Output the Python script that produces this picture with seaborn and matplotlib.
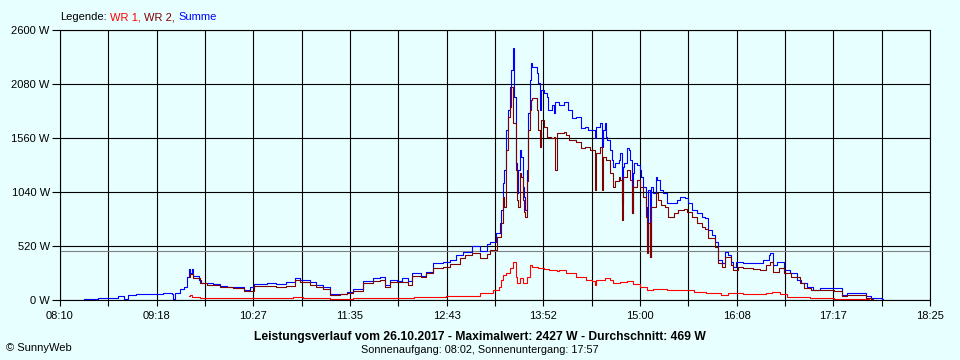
import numpy as np
import pandas as pd
import matplotlib
matplotlib.use('Agg')
import matplotlib.pyplot as plt
import seaborn as sns

# Summe (blue)
sum_times = ["08:27", "08:31", "08:37", "08:44", "08:51", "08:55", "08:58", "09:04", "09:18", "09:23",
             "09:29", "09:30", "09:31", "09:35", "09:38", "09:40", "09:41", "09:42", "09:43", "09:44",
             "09:48", "09:50", "09:54", "09:58", "10:03", "10:08", "10:15", "10:20", "10:24", "10:27",
             "10:36", "10:43", "10:50", "10:56", "11:00", "11:07", "11:11", "11:16", "11:21", "11:26",
             "11:33", "11:37", "11:44", "11:51", "11:56", "12:00", "12:03", "12:08", "12:12", "12:16",
             "12:19", "12:25", "12:29", "12:34", "12:41", "12:46", "12:50", "12:55", "13:01", "13:07",
             "13:12", "13:14", "13:18", "13:21", "13:22", "13:23", "13:24", "13:25", "13:27", "13:28",
             "13:29", "13:30", "13:31", "13:32", "13:33", "13:34", "13:35", "13:36", "13:37", "13:38",
             "13:39", "13:40", "13:41", "13:42", "13:43", "13:44", "13:47", "13:48", "13:49", "13:50",
             "13:52", "13:54", "13:55", "13:58", "13:59", "14:00", "14:03", "14:06", "14:09", "14:12",
             "14:15", "14:18", "14:21", "14:23", "14:28", "14:29", "14:32", "14:33", "14:34", "14:35",
             "14:36", "14:37", "14:39", "14:40", "14:41", "14:42", "14:45", "14:46", "14:47", "14:48",
             "14:49", "14:51", "14:52", "14:53", "14:54", "14:55", "14:56", "14:58", "15:00", "15:01",
             "15:02", "15:04", "15:05", "15:06", "15:07", "15:08", "15:09", "15:11", "15:12", "15:14",
             "15:16", "15:19", "15:22", "15:26", "15:28", "15:32", "15:34", "15:37", "15:40", "15:44",
             "15:46", "15:48", "15:51", "15:53", "15:55", "15:58", "16:00", "16:02", "16:04", "16:06",
             "16:08", "16:13", "16:27", "16:31", "16:32", "16:34", "16:37", "16:42", "16:46", "16:51",
             "16:54", "16:58", "17:02", "17:07", "17:23", "17:26", "17:40", "17:43", "17:51", "17:52"]
sum_watts = [7, 10, 16, 22, 35, 10, 48, 58, 58, 64,
             58, 7, 71, 103, 128, 225, 298, 260, 298, 231,
             193, 161, 167, 154, 135, 122, 122, 96, 122, 154,
             161, 154, 176, 209, 193, 176, 145, 122, 58, 58,
             80, 103, 183, 209, 218, 145, 193, 183, 209, 183,
             257, 231, 273, 353, 369, 385, 433, 465, 523, 475,
             540, 561, 642, 738, 867, 1124, 1252, 1637, 1830, 2054,
             2215, 2427, 1958, 1316, 1027, 1252, 1444, 1380, 1091, 995,
             867, 1252, 1798, 2119, 2279, 2247, 2183, 2087, 1830, 2022,
             1990, 1958, 1830, 1878, 1798, 1910, 1878, 1910, 1830, 1750,
             1765, 1653, 1669, 1637, 1557, 1669, 1701, 1476, 1637, 1701,
             1573, 1540, 1444, 1348, 1284, 1316, 1348, 1412, 931, 1284,
             1316, 1460, 1444, 1348, 835, 1220, 1316, 1300, 1252, 1187,
             1091, 899, 513, 1059, 417, 1091, 1027, 1187, 1155, 1059,
             1027, 931, 931, 963, 995, 980, 931, 867, 835, 802,
             790, 674, 626, 561, 385, 353, 465, 433, 369, 321,
             369, 353, 385, 433, 450, 337, 369, 289, 257, 193,
             161, 128, 96, 112, 48, 64, 38, 16, 7, 0]

# WR 2 (dark red)
wr2_times = ["09:41", "09:42", "09:44", "09:49", "09:54", "10:03", "10:12", "10:20", "10:27", "10:43",
             "10:50", "10:56", "11:00", "11:07", "11:11", "11:16", "11:21", "11:28", "11:33", "11:37",
             "11:44", "11:51", "11:56", "12:00", "12:03", "12:16", "12:19", "12:25", "12:29", "12:34",
             "12:41", "12:46", "12:53", "12:56", "13:01", "13:07", "13:12", "13:14", "13:19", "13:22",
             "13:23", "13:24", "13:25", "13:27", "13:28", "13:29", "13:30", "13:32", "13:33", "13:34",
             "13:35", "13:36", "13:37", "13:38", "13:39", "13:40", "13:41", "13:42", "13:43", "13:44",
             "13:47", "13:48", "13:49", "13:50", "13:52", "13:54", "13:57", "13:59", "14:00", "14:01",
             "14:06", "14:08", "14:10", "14:15", "14:18", "14:21", "14:25", "14:28", "14:29", "14:32",
             "14:33", "14:34", "14:36", "14:39", "14:41", "14:42", "14:45", "14:46", "14:47", "14:48",
             "14:51", "14:53", "14:54", "14:55", "14:58", "15:00", "15:02", "15:04", "15:05", "15:06",
             "15:07", "15:08", "15:11", "15:13", "15:15", "15:18", "15:20", "15:24", "15:27", "15:31",
             "15:33", "15:37", "15:40", "15:44", "15:46", "15:48", "15:53", "15:55", "15:58", "16:00",
             "16:04", "16:06", "16:09", "16:13", "16:20", "16:25", "16:29", "16:32", "16:34", "16:38",
             "16:42", "16:47", "16:53", "16:56", "17:01", "17:17", "17:23", "17:26", "17:40", "17:43",
             "17:45"]
wr2_watts = [225, 250, 209, 161, 145, 122, 112, 90, 135, 122,
             135, 193, 170, 145, 122, 103, 48, 58, 71, 90,
             161, 186, 193, 122, 176, 145, 231, 218, 257, 305,
             321, 347, 401, 433, 450, 401, 440, 482, 610, 738,
             995, 899, 1444, 1765, 1862, 2054, 1701, 1252, 963, 899,
             1220, 1187, 963, 850, 802, 1150, 1637, 1830, 1926, 1942,
             1830, 1637, 1476, 1733, 1669, 1573, 1557, 1573, 1252, 1605,
             1620, 1590, 1541, 1520, 1460, 1476, 1444, 1059, 1412, 1476,
             1059, 1380, 1350, 1220, 1091, 1150, 1187, 1155, 770, 1187,
             1252, 1155, 835, 1091, 1155, 1091, 995, 802, 450, 738,
             417, 900, 1027, 963, 915, 900, 802, 835, 867, 880,
             850, 802, 738, 706, 680, 594, 513, 353, 321, 417,
             337, 289, 320, 305, 300, 289, 337, 369, 273, 305,
             257, 225, 161, 112, 96, 90, 38, 48, 16, 7,
             0]

# WR 1 (red)
wr1_times = ["09:41", "09:42", "09:43", "09:49", "09:54", "10:53", "10:55", "11:02", "11:21", "11:37",
             "11:56", "12:20", "12:43", "13:07", "13:16", "13:20", "13:22", "13:23", "13:25", "13:28",
             "13:30", "13:32", "13:33", "13:35", "13:37", "13:40", "13:42", "13:44", "13:48", "13:52",
             "13:56", "14:01", "14:03", "14:08", "14:15", "14:22", "14:26", "14:28", "14:29", "14:32",
             "14:35", "14:39", "14:41", "14:46", "14:51", "14:55", "15:00", "15:05", "15:09", "15:19",
             "15:33", "15:38", "15:47", "15:57", "16:02", "16:13", "16:29", "16:33", "16:39", "16:44",
             "16:53", "17:00", "17:17", "17:40", "17:42"]
wr1_watts = [38, 45, 32, 22, 16, 16, 26, 16, 7, 16,
             22, 32, 42, 64, 96, 128, 193, 240, 257, 305,
             369, 225, 161, 209, 161, 225, 337, 320, 305, 295,
             289, 280, 289, 257, 225, 193, 185, 145, 190, 193,
             209, 193, 161, 170, 180, 150, 128, 96, 105, 100,
             96, 80, 64, 48, 64, 60, 64, 74, 60, 32,
             26, 16, 10, 8, 0]

avg_watt = 469
y_ticks = [0, 520, 1040, 1560, 2080, 2600]
y_labels = ["0 W", "520 W", "1040 W", "1560 W", "2080 W", "2600 W"]
x_labels = ["08:10", "09:18", "10:27", "11:35", "12:43", "13:52", "15:00", "16:08", "17:17", "18:25"]

bg = '#e8ffff'
plt.rcParams['font.family'] = ['Liberation Sans', 'DejaVu Sans']


def to_hours(times):
    t = pd.to_datetime(pd.Series(times), format='%H:%M')
    return (t.dt.hour + t.dt.minute / 60).to_numpy()


fig = plt.figure(figsize=(9.6, 3.6), dpi=100, facecolor=bg)
ax = fig.add_axes([60 / 960, 60 / 360, 870 / 960, 270 / 360])
ax.set_facecolor(bg)

x0 = 8 + 10 / 60
x1 = 18 + 25 / 60
grid_x = np.linspace(x0, x1, 19)
tick_labels = []
for i in range(19):
    tick_labels.append(x_labels[i // 2] if i % 2 == 0 else '')

ax.set_xlim(x0, x1)
ax.set_ylim(0, 2600)
ax.set_xticks(grid_x)
ax.set_xticklabels(tick_labels)
ax.set_yticks(y_ticks)
ax.set_yticklabels(y_labels)
ax.grid(True, color='black', lw=0.8)
ax.set_axisbelow(True)
for sp in ax.spines.values():
    sp.set_color('black')
    sp.set_linewidth(0.8)
ax.tick_params(axis='y', length=5.8, width=0.8, pad=1.5, labelsize=8)
ax.tick_params(axis='x', length=4.3, width=0.8, pad=3.5, labelsize=8)

ax.axhline(avg_watt, color='#808080', lw=0.8, zorder=1.5)

sns.lineplot(x=to_hours(sum_times), y=sum_watts, color='#0000ff', lw=0.8,
             drawstyle='steps-post', estimator=None, ax=ax)
sns.lineplot(x=to_hours(wr2_times), y=wr2_watts, color='#800000', lw=0.8,
             drawstyle='steps-post', estimator=None, ax=ax)
sns.lineplot(x=to_hours(wr1_times), y=wr1_watts, color='#ff0000', lw=0.8,
             drawstyle='steps-post', estimator=None, ax=ax)
ax.set_xlabel('')
ax.set_ylabel('')

# legend line on top, coloured word by word
renderer = fig.canvas.get_renderer()
xpos = 60
for s, c in [("Legende:", "black"), ("WR 1,", "#ff0000"), ("WR 2,", "#800000"), ("Summe", "#0000ff")]:
    t = fig.text(xpos / 960, 1 - 17 / 360, s, color=c, fontsize=8, ha='left', va='center')
    bb = t.get_window_extent(renderer)
    xpos = bb.x1 + 3.5

fig.text(0.5, 1 - 337 / 360,
         "Leistungsverlauf vom 26.10.2017 - Maximalwert: 2427 W - Durchschnitt: 469 W",
         ha='center', va='center', fontsize=8.7, fontweight='bold')
fig.text(0.5, 1 - 350 / 360, "Sonnenaufgang: 08:02, Sonnenuntergang: 17:57",
         ha='center', va='center', fontsize=7.8)
fig.text(6 / 960, 1 - 348 / 360, "© SunnyWeb", ha='left', va='center', fontsize=8)

fig.savefig('out.png', dpi=100, facecolor=bg)
